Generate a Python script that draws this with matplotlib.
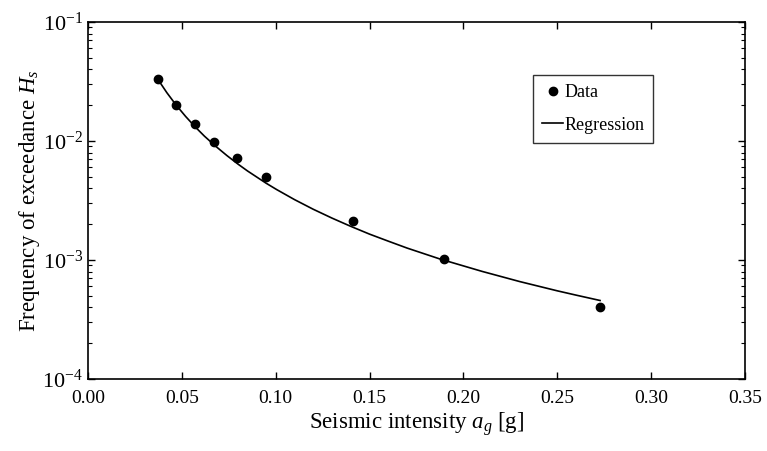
import matplotlib
matplotlib.use('Agg')
import matplotlib.pyplot as plt
from matplotlib.ticker import LogLocator, NullLocator, FixedLocator

plt.rcParams['font.family'] = ['Liberation Serif', 'DejaVu Serif']
plt.rcParams['mathtext.fontset'] = 'custom'
plt.rcParams['mathtext.rm'] = 'Liberation Serif'
plt.rcParams['mathtext.it'] = 'Liberation Serif:italic'

# data points
ag_data = [0.0373, 0.0469, 0.0570, 0.0671, 0.0794, 0.0948, 0.1412, 0.1897, 0.2728]
hs_data = [0.0332, 0.0201, 0.0139, 0.00981, 0.00720, 0.00498, 0.00213, 0.00102, 0.000403]

# regression curve
ag_reg = [0.0369, 0.0420, 0.0469, 0.0520, 0.0570, 0.0620, 0.0677, 0.0740, 0.0799,
          0.0850, 0.0948, 0.1005, 0.1100, 0.1200, 0.1300, 0.1396, 0.1500, 0.1600,
          0.1700, 0.1875, 0.2100, 0.2300, 0.2500, 0.2600, 0.2728]
hs_reg = [0.0336, 0.0255, 0.0201, 0.0161, 0.0132, 0.0110, 0.00913, 0.00755, 0.00640,
          0.00560, 0.00443, 0.00391, 0.00322, 0.00267, 0.00225, 0.00193, 0.00165, 0.00144,
          0.00126, 0.00102, 0.000802, 0.000659, 0.000551, 0.000507, 0.000457]

fig = plt.figure(figsize=(7.67, 4.51), dpi=100)
ax = fig.add_axes([0.1147, 0.1596, 0.8566, 0.7916])

ax.plot(ag_reg, hs_reg, color='black', lw=1.2, label='Regression', zorder=2)
ax.plot(ag_data, hs_data, 'o', color='black', ms=6, label='Data', zorder=3)

ax.set_yscale('log')
ax.set_xlim(0, 0.35)
ax.set_ylim(1e-4, 1e-1)
ax.xaxis.set_major_locator(FixedLocator([0, 0.05, 0.1, 0.15, 0.2, 0.25, 0.3, 0.35]))
ax.xaxis.set_minor_locator(NullLocator())
ax.yaxis.set_major_locator(LogLocator(base=10, numticks=10))
ax.yaxis.set_minor_locator(LogLocator(base=10, subs=range(2, 10), numticks=10))
ax.set_xticklabels(['0.00', '0.05', '0.10', '0.15', '0.20', '0.25', '0.30', '0.35'])

ax.tick_params(which='both', direction='in', top=True, right=True)
ax.tick_params(axis='x', labelsize=14, pad=8)
ax.tick_params(axis='y', labelsize=16)
ax.tick_params(which='major', length=5, width=1)
ax.tick_params(which='minor', length=3, width=0.8)
for s in ax.spines.values():
    s.set_linewidth(1.2)

ax.set_xlabel('Seismic intensity $a_g$ [g]', fontsize=16.5, labelpad=2)
ax.set_ylabel('Frequency of exceedance $H_s$', fontsize=16.5, labelpad=0)

handles, labels = ax.get_legend_handles_labels()
leg = ax.legend(handles[::-1], labels[::-1], loc='upper left',
                bbox_to_anchor=(0.677, 0.851), fontsize=13, frameon=True,
                fancybox=False, edgecolor='black', handlelength=1.2,
                handletextpad=0.05, borderpad=0.5, labelspacing=0.85,
                borderaxespad=0)
leg.get_frame().set_linewidth(1.0)

fig.savefig('out.png', dpi=100)
